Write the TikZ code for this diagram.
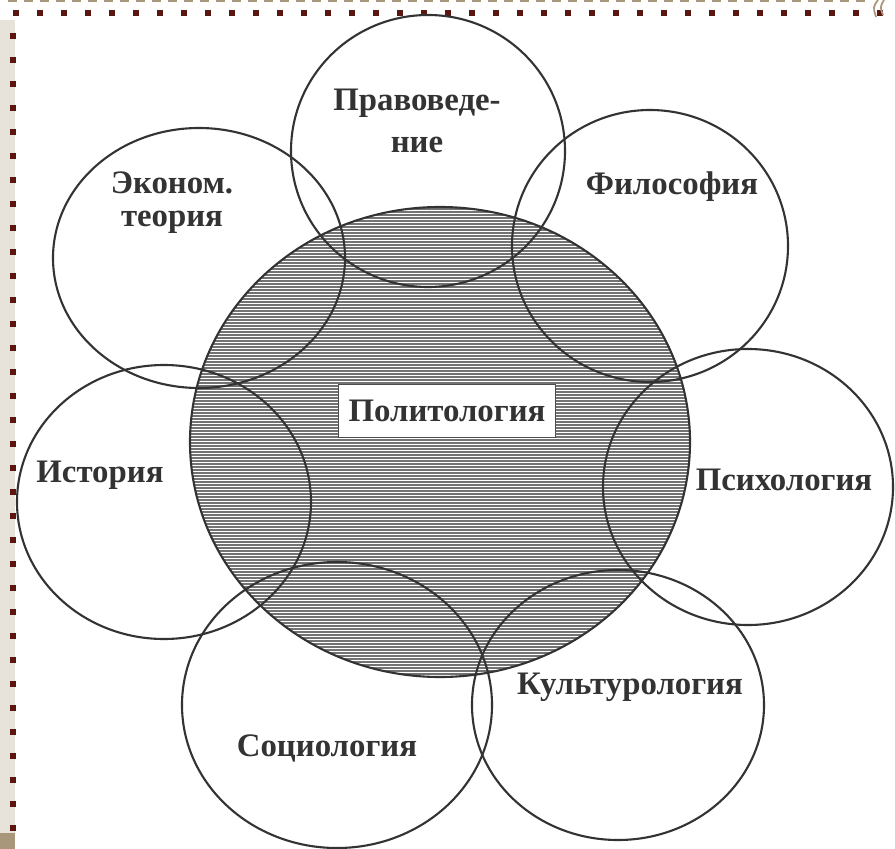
\documentclass[tikz,border=0pt]{standalone}
\usepackage{fontspec}
\setmainfont{Liberation Serif}
\definecolor{bordo}{HTML}{5A1712}
\definecolor{bezh}{HTML}{E7E3DA}
\definecolor{kant}{HTML}{A8977A}
\tikzset{
  krug/.style={draw=black!80, line width=1.8pt},
  nauka/.style={font=\fontsize{28}{28}\selectfont\bfseries, text=black!80, align=center},
}
\begin{document}
\begin{tikzpicture}[x=0.3mm,y=-0.3mm]
        \useasboundingbox (0,0) rectangle (895,849);
        %рамка
        \fill[bezh] (0,20) rectangle (15,833);
        \fill[kant] (0,833) rectangle (15,849);
        \draw[kant, line width=1.6pt, dash pattern=on 2.7mm off 2.1mm] (8,1) -- (868,1);
        \foreach \x in {16,40,...,880} \fill[bordo] (\x-3,9.5) rectangle (\x+3,15.5);
        \foreach \y in {36,60,...,828} \fill[bordo] (9.5,\y-3) rectangle (15.5,\y+3);
        \draw[kant, line width=1.5pt] (878,0) .. controls (873,7) .. (876,17);
        \draw[kant, line width=1.5pt] (884,0) .. controls (880,7) .. (883,15);
        %политология
        \fill[black!55] (440,442) ellipse [x radius=250, y radius=235];
        \begin{scope}
          \clip (440,442) ellipse [x radius=250, y radius=235];
          \foreach \y in {207,210,...,678} \draw[white, line width=0.5pt] (185,\y) -- (695,\y);
        \end{scope}
        %соседние науки
        \draw[krug] (428,151) ellipse [x radius=137, y radius=136];
        \draw[krug] (650,246) ellipse [x radius=138, y radius=136];
        \draw[krug] (199,258) ellipse [x radius=146, y radius=130];
        \draw[krug] (164,502) ellipse [x radius=147, y radius=137];
        \draw[krug] (748,487) ellipse [x radius=145, y radius=138];
        \draw[krug] (337,705) ellipse [x radius=155, y radius=143];
        \draw[krug] (618,705) ellipse [x radius=146, y radius=135];
        \draw[krug] (440,442) ellipse [x radius=250, y radius=235];
        %подписи
        \node[nauka] (pravo) at (417,121) {Правоведе-\\[7.7pt]ние};
        \node[nauka] (filo) at (672,187) {Философия};
        \node[nauka] (ekon) at (172,203) {Эконом.\\теория};
        \node[nauka] (ist) at (100,475) {История};
        \node[nauka] (psih) at (784,480) {Психология};
        \node[nauka] (kult) at (630,687) {Культурология};
        \node[nauka] (soc) at (327,748) {Социология};
        \node[nauka, draw=black!70, fill=white, line width=0.8pt, minimum width=65mm, minimum height=15.9mm] (polit) at (447,411) {Политология};
\end{tikzpicture}
\end{document}
